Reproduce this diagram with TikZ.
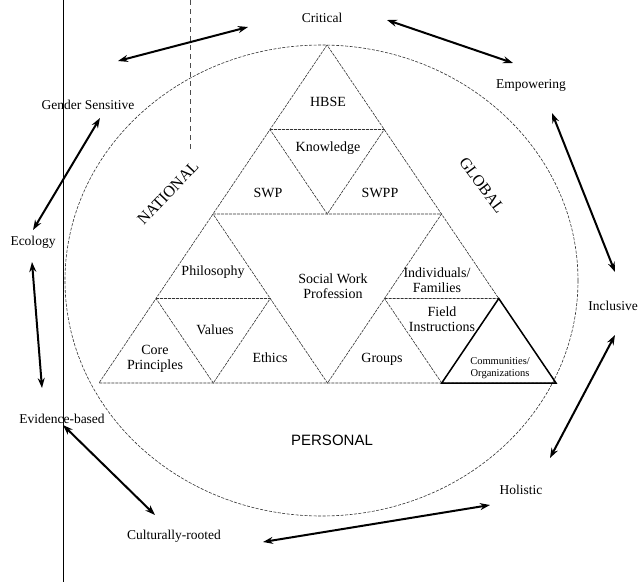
\documentclass[tikz,border=0pt]{standalone}
\usepackage{fontspec}
\setmainfont{Liberation Serif}
\newfontfamily\sansf{Liberation Sans}
\usetikzlibrary{arrows.meta,calc}
\begin{document}
\begin{tikzpicture}[x=1pt,y=-1pt,
  lab/.style={font=\fontsize{13.5}{15}\selectfont, inner sep=0pt},
  inlab/.style={font=\fontsize{14}{15.5}\selectfont, align=center, inner sep=0pt},
  biglab/.style={font=\fontsize{16}{18}\selectfont, inner sep=0pt},
  tri/.style={draw=black!80, line width=0.6pt, dash pattern=on 3pt off 1pt},
  circ/.style={draw=black!80, line width=0.6pt, dash pattern=on 3pt off 1.5pt},
  dbl/.style={line width=2pt, {Stealth[length=10pt,width=7pt]}-{Stealth[length=10pt,width=7pt]}},
  bold/.style={draw=black, line width=1.5pt, line join=miter}]
\useasboundingbox[fill=white] (0,0) rectangle (640,582);
% scan edges
\draw[line width=0.8pt] (63,0) -- (63,582);
\draw[black!70, line width=0.6pt, dash pattern=on 5pt off 4pt] (190,0) -- (190,150);
% circle
\draw[circ] (321.5,280.5) ellipse [x radius=256.5pt, y radius=235.5pt];
% triangle points
\coordinate (A) at (327,45);
\coordinate (B) at (99,383);
\coordinate (C) at (556,383);
\coordinate (P) at ($(A)!0.5!(B)$);
\coordinate (Q) at ($(A)!0.5!(C)$);
\coordinate (R) at ($(B)!0.5!(C)$);
\coordinate (AP) at ($(A)!0.5!(P)$);
\coordinate (AQ) at ($(A)!0.5!(Q)$);
\coordinate (PQ) at ($(P)!0.5!(Q)$);
\coordinate (PB) at ($(P)!0.5!(B)$);
\coordinate (PR) at ($(P)!0.5!(R)$);
\coordinate (BR) at ($(B)!0.5!(R)$);
\coordinate (QR) at ($(Q)!0.5!(R)$);
\coordinate (QC) at ($(Q)!0.5!(C)$);
\coordinate (RC) at ($(R)!0.5!(C)$);
\draw[tri] (A) -- (B) -- (C) -- cycle;
\draw[tri] (P) -- (Q) -- (R) -- cycle;
\draw[tri] (AP) -- (AQ) -- (PQ) -- cycle;
\draw[tri] (PB) -- (PR) -- (BR) -- cycle;
\draw[tri] (QR) -- (QC) -- (RC) -- cycle;
\draw[bold] (QC) -- (RC) -- (C) -- cycle;
% inner labels
\node[inlab] (hbse) at (328,102) {HBSE};
\node[inlab] (know) at (328,148) {Knowledge};
\node[inlab] (swp) at (268,193) {SWP};
\node[inlab] (swpp) at (380,193) {SWPP};
\node[inlab] (phil) at (213,272) {Philosophy};
\node[inlab] (val) at (215,330) {Values};
\node[inlab] (core) at (155,359) {Core\\Principles};
\node[inlab] (eth) at (270,358) {Ethics};
\node[inlab] (swprof) at (333,286) {Social Work\\Profession};
\node[inlab] (indiv) at (437,280) {Individuals/\\Families};
\node[inlab] (field) at (442,319) {Field\\Instructions};
\node[inlab] (grp) at (382,359) {Groups};
\node[font=\fontsize{10.5}{12}\selectfont, align=center, inner sep=0pt] (comm) at (500,368) {Communities/\\Organizations};
% region labels
\node[biglab, rotate=46.5] (nat) at (168,193) {NATIONAL};
\node[biglab, rotate=-53.5] (glob) at (482,185) {GLOBAL};
\node[font=\sansf\fontsize{15}{17}\selectfont, inner sep=0pt] (pers) at (332,440) {PERSONAL};
% outer labels
\node[lab] (crit) at (322,18) {Critical};
\node[lab] (emp) at (531,85) {Empowering};
\node[lab] (incl) at (613,306) {Inclusive};
\node[lab] (hol) at (521,490) {Holistic};
\node[lab] (cult) at (174,536) {Culturally-rooted};
\node[lab] (evid) at (62,419) {Evidence-based};
\node[lab] (eco) at (33,242) {Ecology};
\node[lab] (gend) at (88,105) {Gender Sensitive};
% arrow ends
\coordinate (a1s) at (118,61);  \coordinate (a1e) at (248,27);
\coordinate (a2s) at (387,20);  \coordinate (a2e) at (513,63);
\coordinate (a3s) at (552,113); \coordinate (a3e) at (615,272);
\coordinate (a4s) at (100,118); \coordinate (a4e) at (33,230);
\coordinate (a5s) at (32,262);  \coordinate (a5e) at (42,388);
\coordinate (a6s) at (63,425);  \coordinate (a6e) at (155,515);
\coordinate (a7s) at (263,542); \coordinate (a7e) at (490,505);
\coordinate (a8s) at (615,335); \coordinate (a8e) at (550,458);
\draw[dbl] (a1s) -- (a1e);
\draw[dbl] (a2s) -- (a2e);
\draw[dbl] (a3s) -- (a3e);
\draw[dbl] (a4s) -- (a4e);
\draw[dbl] (a5s) -- (a5e);
\draw[dbl] (a6s) -- (a6e);
\draw[dbl] (a7s) -- (a7e);
\draw[dbl] (a8s) -- (a8e);
\end{tikzpicture}
\end{document}
